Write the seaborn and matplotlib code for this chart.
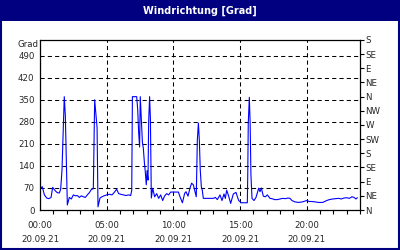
import matplotlib
matplotlib.use("Agg")
import matplotlib.pyplot as plt
from matplotlib.patches import Rectangle
import seaborn as sns
import pandas as pd

# ---- data (hours since 00:00 on 20.09.21, wind direction in degrees) ----
hours = [0.0, 0.17, 0.33, 0.5, 0.67, 0.83, 0.95, 1.12, 1.3, 1.45, 1.55, 1.65, 1.72, 1.77, 1.82, 1.9, 2.05,
         2.2, 2.35, 2.5, 2.65, 2.8, 2.95, 3.1, 3.25, 3.4, 3.55, 3.7, 3.85, 4.0, 4.1, 4.2, 4.28, 4.35,
         4.5, 4.65, 4.8, 5.0, 5.2, 5.4, 5.55, 5.75, 5.9, 6.05, 6.25, 6.45, 6.65, 6.8, 6.88, 6.93,
         7.25, 7.33, 7.4, 7.47, 7.52, 7.6, 7.68, 7.75, 7.83, 7.9, 7.97, 8.03, 8.1, 8.15, 8.22, 8.28, 8.35,
         8.45, 8.6, 8.75, 8.9, 9.05, 9.2, 9.35, 9.5, 9.65, 9.8, 10.0, 10.2, 10.38, 10.5, 10.68,
         10.85, 10.95, 11.1, 11.25, 11.37, 11.5, 11.6, 11.72, 11.8, 11.88, 11.95, 12.02, 12.1, 12.17, 12.25,
         12.5, 12.75, 13.0, 13.15, 13.3, 13.5, 13.65, 13.8, 13.9, 14.0, 14.15, 14.3, 14.5, 14.7, 14.9,
         15.1, 15.3, 15.55, 15.58, 15.62, 15.7, 15.76, 15.82, 15.9, 16.05, 16.2, 16.4, 16.5, 16.6,
         16.75, 16.9, 17.05, 17.25, 17.4, 17.6, 17.8, 18.0, 18.2, 18.4, 18.6, 18.75, 18.9, 19.1, 19.4,
         19.7, 20.0, 20.2, 20.4, 20.6, 20.9, 21.2, 21.5, 21.7, 21.95, 22.2, 22.4, 22.6, 22.8, 23.0,
         23.2, 23.4, 23.55, 23.7, 23.8]
direction = [68, 74, 48, 38, 36, 40, 72, 62, 55, 54, 66, 127, 227, 302, 360, 300, 16,
             40, 35, 48, 45, 46, 40, 45, 42, 40, 48, 55, 65, 68, 350, 300, 262, 10,
             38, 42, 45, 48, 50, 48, 55, 66, 52, 50, 48, 46, 48, 46, 62, 360,
             360, 318, 245, 200, 360, 290, 215, 196, 150, 120, 80, 125, 95, 280, 360, 290, 38,
             69, 42, 52, 37, 48, 30, 45, 52, 48, 57, 57, 57, 57, 42, 23,
             53, 58, 44, 70, 85, 80, 63, 42, 222, 276, 222, 127, 74, 63, 37,
             37, 37, 37, 40, 33, 48, 30, 51, 37, 63, 44, 21, 51, 56, 30,
             23, 23, 23, 108, 276, 358, 276, 111, 37, 30, 40, 69, 58, 70,
             44, 42, 48, 37, 36, 33, 33, 35, 37, 36, 38, 37, 30, 26, 24,
             26, 30, 27, 27, 26, 24, 24, 30, 33, 35, 36, 37, 35, 38, 39,
             37, 42, 40, 35, 39]

y_ticks = [0, 70, 140, 210, 280, 350, 420, 490]
right_ticks = [0, 45, 90, 135, 180, 225, 270, 315, 360, 405, 450, 495, 540]
right_labels = ["N", "NE", "E", "SE", "S", "SW", "W", "NW", "N", "NE", "E", "SE", "S"]
x_ticks = [0, 5, 10, 15, 20]
x_labels = ["00:00\n20.09.21", "05:00\n20.09.21", "10:00\n20.09.21", "15:00\n20.09.21", "20:00\n20.09.21"]
title = "Windrichtung [Grad]"
unit = "Grad"

df = pd.DataFrame({"hour": hours, "direction": direction})

sns.set_style("white")
plt.rcParams["font.family"] = ["DejaVu Sans"]

NAVY = "#000080"
fig = plt.figure(figsize=(4, 2.5), dpi=100)
fig.patch.set_facecolor("white")

# title bar and frame
fig.patches.append(Rectangle((0, 1 - 21 / 250), 1, 21 / 250, transform=fig.transFigure,
                             facecolor=NAVY, edgecolor="none", zorder=0))
fig.patches.append(Rectangle((0.002, 0.004), 0.996, 0.99, transform=fig.transFigure,
                             facecolor="none", edgecolor=NAVY, linewidth=1.5, zorder=0))
fig.text(0.5, 1 - 10.5 / 250, title, color="white", fontsize=7, fontweight="bold",
         ha="center", va="center")

ax = fig.add_axes([40 / 400, 40 / 250, 320 / 400, 170 / 250])
ax.set_facecolor("white")
sns.lineplot(data=df, x="hour", y="direction", ax=ax, color="#0000ff", linewidth=0.8)

ax.set_xlim(0, 24)
ax.set_ylim(0, 540)
ax.set_yticks(y_ticks)
ax.set_xticks(x_ticks)
ax.set_xticks(range(0, 25), minor=True)
ax.set_xticklabels(x_labels, fontsize=6.2, linespacing=1.65)
ax.set_yticklabels([str(v) for v in y_ticks], fontsize=6.2)
ax.set_xlabel("")
ax.set_ylabel("")
ax.tick_params(axis="y", which="both", length=0, pad=4)
ax.tick_params(axis="x", which="major", length=3, width=0.8, direction="out", pad=5, color="black")
ax.tick_params(axis="x", which="minor", length=3, width=0.8, direction="out", color="black", bottom=True)
ax.grid(True, which="major", color="black", linestyle=(0, (4, 3)), linewidth=0.75)
for s in ax.spines.values():
    s.set_visible(True)
    s.set_color("black")
    s.set_linewidth(0.9)

ax.text(-0.005, 0.975, unit, transform=ax.transAxes, ha="right", va="center", fontsize=6.2)

ax2 = ax.twinx()
ax2.set_ylim(0, 540)
ax2.set_yticks(right_ticks)
ax2.set_yticklabels(right_labels, fontsize=6.2)
ax2.tick_params(axis="y", length=3, width=0.8, direction="out", pad=1, color="black")
ax2.grid(False)
for s in ax2.spines.values():
    s.set_visible(False)

fig.savefig("out.png", dpi=100)
